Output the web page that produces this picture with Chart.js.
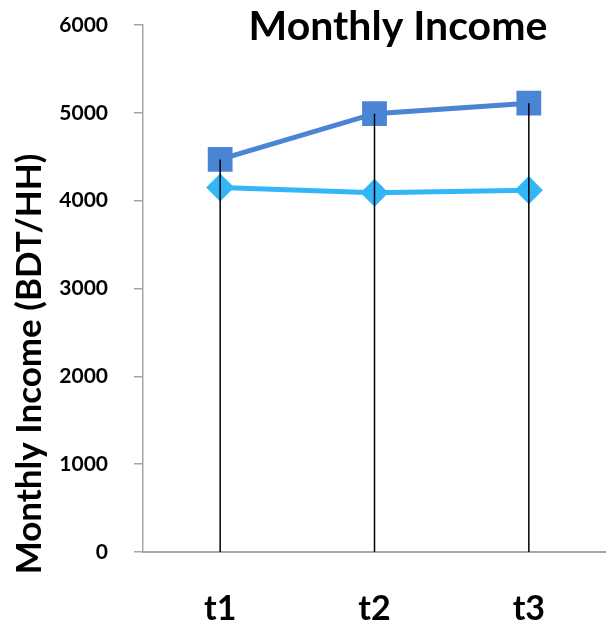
<!DOCTYPE html>
<html><head><meta charset="utf-8">
<script src="https://cdn.jsdelivr.net/npm/chart.js@4.4.0/dist/chart.umd.min.js"></script>
<style>html,body{margin:0;padding:0;background:#fff}#wrap{width:606px;height:631px}</style>
</head><body><div id="wrap"><canvas id="c" width="606" height="631"></canvas></div>
<script>
const categories = ['t1', 't2', 't3'];
const seriesA = [4470, 4990, 5110];
const seriesB = [4150, 4090, 4120];
const yTicks = [0, 1000, 2000, 3000, 4000, 5000, 6000];
const chartTitle = 'Monthly Income';
const yTitle = 'Monthly Income (BDT/HH)';
const FONT = 'Lato';

const extras = {
  id: 'extras',
  afterDatasetsDraw(chart) {
    const ctx = chart.ctx, x = chart.scales.x, y = chart.scales.y;
    ctx.save();
    ctx.strokeStyle = '#000';
    ctx.lineWidth = 1.5;
    categories.forEach((c, i) => {
      const px = x.getPixelForValue(i);
      const hi = Math.max(seriesA[i], seriesB[i]);
      ctx.beginPath();
      ctx.moveTo(px, y.getPixelForValue(0));
      ctx.lineTo(px, y.getPixelForValue(hi));
      ctx.stroke();
    });
    ctx.restore();
  },
  afterDraw(chart) {
    const ctx = chart.ctx;
    ctx.save();
    ctx.fillStyle = '#000';
    ctx.font = 'bold 41px ' + FONT;
    ctx.textAlign = 'center';
    ctx.textBaseline = 'middle';
    ctx.fillText(chartTitle, 398, 27);
    ctx.translate(30, 364);
    ctx.rotate(-Math.PI / 2);
    ctx.font = 'bold 35px ' + FONT;
    ctx.fillText(yTitle, 0, 0);
    ctx.restore();
  }
};

new Chart(document.getElementById('c'), {
  type: 'line',
  data: {
    labels: categories,
    datasets: [
      { data: seriesA, borderColor: '#4A85D5', backgroundColor: '#4A85D5', borderWidth: 5,
        pointStyle: 'rect', pointRadius: 14, pointHoverRadius: 14, tension: 0 },
      { data: seriesB, borderColor: '#33B6F8', backgroundColor: '#33B6F8', borderWidth: 5,
        pointStyle: 'rectRot', pointRadius: 10.5, pointHoverRadius: 10.5, tension: 0 }
    ]
  },
  options: {
    responsive: false,
    animation: false,
    layout: { autoPadding: false, padding: { top: 25, right: 0, left: 0, bottom: 0 } },
    plugins: { legend: { display: false }, tooltip: { enabled: false }, title: { display: false } },
    scales: {
      x: {
        offset: true,
        grid: { display: false, drawTicks: false },
        border: { color: '#A6A6A6', width: 2 },
        ticks: { color: '#000', font: { family: FONT, size: 34, weight: 'bold' }, padding: 37 },
        afterFit(s) { s.height = 79; s.paddingLeft = 0; s.paddingRight = 0; }
      },
      y: {
        min: 0, max: 6000,
        afterBuildTicks(s) { s.ticks = yTicks.map(v => ({ value: v })); },
        grid: { display: true, drawOnChartArea: false, drawTicks: true, tickLength: 9, color: '#A6A6A6', lineWidth: 1.5 },
        border: { color: '#A6A6A6', width: 1.5 },
        ticks: { color: '#000', font: { family: FONT, size: 21, weight: 'bold' }, padding: 26,
                 callback: v => String(v) },
        afterFit(s) { s.width = 143; s.paddingTop = 0; s.paddingBottom = 0; }
      }
    }
  },
  plugins: [extras]
});
</script></body></html>
